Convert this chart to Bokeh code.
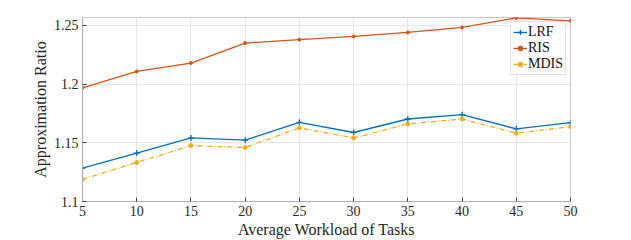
from bokeh.plotting import figure
from bokeh.models import Range1d, FixedTicker, Legend, LegendItem
from bokeh.embed import file_html
from bokeh.resources import INLINE

workload = [5, 10, 15, 20, 25, 30, 35, 40, 45, 50]
lrf = [1.1285, 1.1413, 1.1542, 1.1523, 1.1675, 1.1588, 1.1703, 1.1740, 1.1619, 1.1672]
ris = [1.1969, 1.2108, 1.2180, 1.2350, 1.2379, 1.2407, 1.2441, 1.2483, 1.2565, 1.2540]
mdis = [1.1189, 1.1333, 1.1477, 1.1460, 1.1627, 1.1542, 1.1661, 1.1703, 1.1582, 1.1638]
y_ticks = [1.1, 1.15, 1.2, 1.25]
y_tick_labels = ["1.1", "1.15", "1.2", "1.25"]

FONT = "Liberation Serif"
p = figure(width=631, height=240, output_backend="svg", toolbar_location=None,
           x_range=Range1d(5, 50), y_range=Range1d(1.1, 1.2568),
           min_border_left=82, min_border_right=61, min_border_top=17, min_border_bottom=38)

c_lrf, c_ris, c_mdis = "#0072BD", "#D95319", "#EDB120"
r1 = p.line(workload, lrf, color=c_lrf, line_width=1.3)
s1 = p.scatter(workload, lrf, marker="cross", size=6, color=c_lrf, line_width=1.3)
r2 = p.line(workload, ris, color=c_ris, line_width=1.3)
s2 = p.scatter(workload, ris, marker="circle", size=3, color=c_ris)
r3 = p.line(workload, mdis, color=c_mdis, line_width=1.3, line_dash="5 2 1 2")
s3 = p.scatter(workload, mdis, marker="circle", size=4, color=c_mdis)

legend = Legend(items=[LegendItem(label="LRF", renderers=[r1, s1]),
                       LegendItem(label="RIS", renderers=[r2, s2]),
                       LegendItem(label="MDIS", renderers=[r3, s3])],
                location="top_right")
legend.label_text_font = FONT
legend.label_text_font_size = "14px"
legend.label_text_color = "#111111"
legend.glyph_width = 14
legend.glyph_height = 12
legend.label_height = 12
legend.spacing = 0
legend.padding = 2
legend.margin = 4
legend.label_standoff = 1
legend.border_line_color = "#c8c8c8"
legend.border_line_width = 1
legend.background_fill_alpha = 1
p.add_layout(legend)

p.xaxis.ticker = FixedTicker(ticks=workload)
p.yaxis.ticker = FixedTicker(ticks=y_ticks)
p.yaxis.major_label_overrides = {t: l for t, l in zip(y_ticks, y_tick_labels)}

for ax in (p.xaxis[0], p.yaxis[0]):
    ax.major_label_text_font = FONT
    ax.major_label_text_font_size = "14px"
    ax.major_label_text_color = "#262626"
    ax.axis_label_text_font = FONT
    ax.axis_label_text_font_size = "16px"
    ax.axis_label_text_font_style = "normal"
    ax.axis_label_text_color = "#262626"
    ax.axis_line_color = "#b0b0b0"
    ax.major_tick_line_color = "#404040"
    ax.major_tick_in = 4
    ax.major_tick_out = 0
    ax.minor_tick_line_color = None
    ax.major_label_standoff = 4
    ax.axis_label_standoff = 2

p.xaxis.axis_label = "Average Workload of Tasks"
p.yaxis.axis_label = "Approximation Ratio"

p.xgrid.grid_line_color = "#e6e6e6"
p.ygrid.grid_line_color = "#e6e6e6"
p.outline_line_color = "#c8c8c8"
p.background_fill_color = "white"
p.border_fill_color = "white"

open("out.html", "w").write(file_html(p, INLINE))
